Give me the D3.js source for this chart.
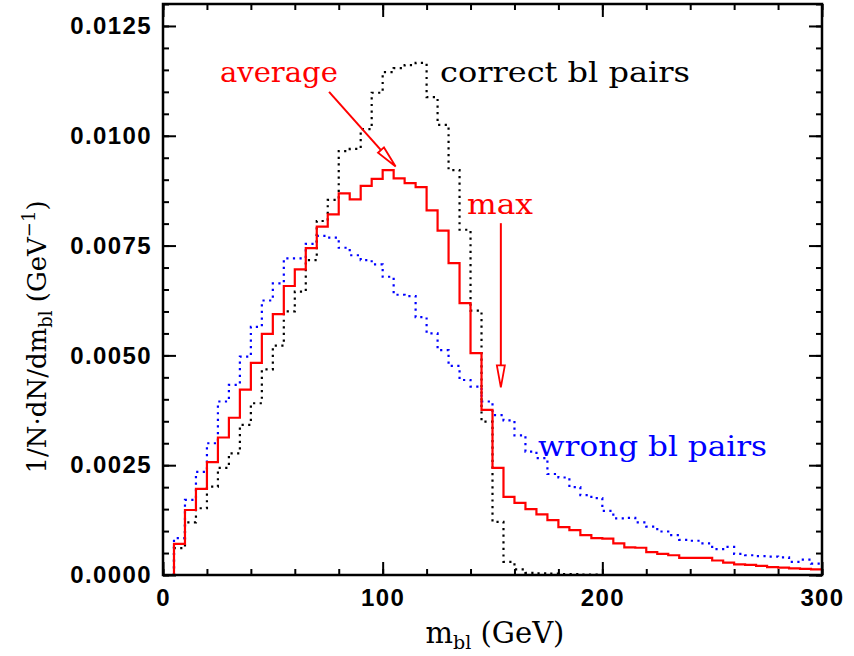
<!DOCTYPE html>
<html>
<head>
<meta charset="utf-8">
<script src="https://cdn.jsdelivr.net/npm/d3@7"></script>
<style>
  body { margin: 0; background: white; }
</style>
</head>
<body>
<div id="vis"></div>
<script>
// bin lower edges (GeV), 5 GeV wide bins starting at 5
const binEdges = d3.range(5, 300, 5);

const averageVals = [
    0.00071, 0.00148, 0.00196, 0.00257, 0.00313, 0.00358, 0.00422, 0.00483, 0.00549, 0.00594,
    0.00658, 0.00696, 0.00744, 0.00793, 0.00821, 0.00869, 0.00855, 0.00886, 0.00902, 0.00922,
    0.00903, 0.00892, 0.00883, 0.00830, 0.00784, 0.00710, 0.00619, 0.00505, 0.00376, 0.00244,
    0.00178, 0.00164, 0.00150, 0.00138, 0.00125, 0.00109, 0.00102, 0.00091, 0.00084, 0.00083,
    0.00072, 0.00063, 0.00062, 0.00052, 0.00048, 0.00045, 0.00039, 0.00039, 0.00039, 0.00033,
    0.00028, 0.00024, 0.00023, 0.00021, 0.00018, 0.00017, 0.00015, 0.00014, 0.00013
];

const correctVals = [
    0.00061, 0.00120, 0.00152, 0.00201, 0.00244, 0.00277, 0.00342, 0.00391, 0.00468, 0.00522,
    0.00600, 0.00645, 0.00717, 0.00806, 0.00854, 0.00965, 0.00970, 0.01015, 0.01098, 0.01145,
    0.01154, 0.01161, 0.01166, 0.01088, 0.01025, 0.00922, 0.00786, 0.00602, 0.00349, 0.00121,
    0.00030, 0.00013, 0.00005, 0.00004, 0.00003, 0.00002, 0.00002, 0.00001, 0.00001, 0,
    0, 0, 0, 0, 0, 0, 0, 0, 0, 0,
    0, 0, 0, 0, 0, 0, 0, 0, 0
];

const wrongVals = [
    0.00084, 0.00171, 0.00235, 0.00300, 0.00395, 0.00433, 0.00497, 0.00565, 0.00625, 0.00664,
    0.00721, 0.00721, 0.00754, 0.00772, 0.00768, 0.00745, 0.00728, 0.00717, 0.00707, 0.00679,
    0.00638, 0.00635, 0.00587, 0.00550, 0.00512, 0.00476, 0.00444, 0.00429, 0.00395, 0.00364,
    0.00352, 0.00318, 0.00281, 0.00266, 0.00230, 0.00222, 0.00200, 0.00182, 0.00175, 0.00146,
    0.00129, 0.00130, 0.00120, 0.00110, 0.00099, 0.00091, 0.00080, 0.00078, 0.00072, 0.00059,
    0.00064, 0.00048, 0.00045, 0.00043, 0.00042, 0.00040, 0.00030, 0.00035, 0.00026
];

const xTicks = [0, 100, 200, 300];
const yTicks = [0, 0.0025, 0.0050, 0.0075, 0.0100, 0.0125];

const width = 854;
const height = 656;
const margin = {top: 4, right: 32, bottom: 81, left: 163};

const svg = d3.select('#vis')
    .append('svg')
    .attr('width', width)
    .attr('height', height);

const x = d3.scaleLinear()
    .domain([0, 300])
    .range([margin.left, width - margin.right]);

const y = d3.scaleLinear()
    .domain([0, 0.013])
    .range([height - margin.bottom, margin.top]);

function histPoints(vals) {
    var pts = [[binEdges[0], 0]];
    for (var i = 0; i < vals.length; i++) {
        pts.push([binEdges[i], vals[i]]);
    }
    pts.push([300, vals[vals.length - 1]]);
    return pts;
}

const line = d3.line()
    .x(d => x(d[0]))
    .y(d => y(d[1]))
    .curve(d3.curveStepAfter);

svg.append('clipPath')
    .attr('id', 'clip')
    .append('rect')
    .attr('x', x(0))
    .attr('y', y(0.013))
    .attr('width', x(300) - x(0))
    .attr('height', y(0) - y(0.013));

const plot = svg.append('g').attr('clip-path', 'url(#clip)');

plot.append('path')
    .attr('d', line(histPoints(wrongVals)))
    .attr('fill', 'none')
    .attr('stroke', '#0000ff')
    .attr('stroke-width', 2.2)
    .attr('stroke-dasharray', '2.2,4.4');

plot.append('path')
    .attr('d', line(histPoints(correctVals)))
    .attr('fill', 'none')
    .attr('stroke', 'black')
    .attr('stroke-width', 2.2)
    .attr('stroke-dasharray', '2.2,4.4');

plot.append('path')
    .attr('d', line(histPoints(averageVals)))
    .attr('fill', 'none')
    .attr('stroke', '#ff0000')
    .attr('stroke-width', 2.2);

// axes: ticks pointing inward on all four sides
function styleAxis(g) {
    g.select('.domain').remove();
    g.selectAll('.tick line').attr('stroke', 'black').attr('stroke-width', 2);
    g.selectAll('.tick text')
        .attr('font-family', 'Liberation Sans, Arial, sans-serif')
        .attr('font-weight', 'bold')
        .attr('font-size', '24px')
        .attr('letter-spacing', '1.4px')
        .attr('fill', 'black');
}

const xMinor = d3.range(0, 301, 20);
const yMinor = d3.range(0, 0.01301, 0.0005);

svg.append('g')
    .attr('transform', `translate(0,${y(0)})`)
    .call(d3.axisBottom(x).tickValues(xMinor).tickSize(-6).tickFormat(''))
    .call(styleAxis);
svg.append('g')
    .attr('transform', `translate(0,${y(0)})`)
    .call(d3.axisBottom(x).tickValues(xTicks).tickSize(-13).tickPadding(14).tickFormat(d3.format('d')))
    .call(styleAxis);
svg.append('g')
    .attr('transform', `translate(0,${y(0.013)})`)
    .call(d3.axisTop(x).tickValues(xMinor).tickSize(-6).tickFormat(''))
    .call(styleAxis);
svg.append('g')
    .attr('transform', `translate(0,${y(0.013)})`)
    .call(d3.axisTop(x).tickValues(xTicks).tickSize(-13).tickFormat(''))
    .call(styleAxis);

svg.append('g')
    .attr('transform', `translate(${x(0)},0)`)
    .call(d3.axisLeft(y).tickValues(yMinor).tickSize(-6).tickFormat(''))
    .call(styleAxis);
svg.append('g')
    .attr('transform', `translate(${x(0)},0)`)
    .call(d3.axisLeft(y).tickValues(yTicks).tickSize(-13).tickPadding(11).tickFormat(d3.format('.4f')))
    .call(styleAxis);
svg.append('g')
    .attr('transform', `translate(${x(300)},0)`)
    .call(d3.axisRight(y).tickValues(yMinor).tickSize(-6).tickFormat(''))
    .call(styleAxis);
svg.append('g')
    .attr('transform', `translate(${x(300)},0)`)
    .call(d3.axisRight(y).tickValues(yTicks).tickSize(-13).tickFormat(''))
    .call(styleAxis);

svg.append('rect')
    .attr('x', x(0))
    .attr('y', y(0.013))
    .attr('width', x(300) - x(0))
    .attr('height', y(0) - y(0.013))
    .attr('fill', 'none')
    .attr('stroke', 'black')
    .attr('stroke-width', 2.5);

// axis titles
const serif = 'DejaVu Serif, serif';

const xTitle = svg.append('text')
    .attr('x', 495)
    .attr('y', 643)
    .attr('text-anchor', 'middle')
    .attr('font-family', serif)
    .attr('font-size', '29px')
    .attr('fill', 'black');
xTitle.append('tspan').text('m');
xTitle.append('tspan').attr('dy', 6).attr('font-size', '19px').text('bl');
xTitle.append('tspan').attr('dy', -6).text(' (GeV)');

const yTitle = svg.append('text')
    .attr('transform', 'translate(46,337) rotate(-90)')
    .attr('text-anchor', 'middle')
    .attr('font-family', serif)
    .attr('font-size', '26px')
    .attr('fill', 'black');
yTitle.append('tspan').text('1/N·dN/dm');
yTitle.append('tspan').attr('dy', 6).attr('font-size', '18px').text('bl');
yTitle.append('tspan').attr('dy', -6).text(' (GeV');
yTitle.append('tspan').attr('dy', -11).attr('font-size', '18px').text('−1');
yTitle.append('tspan').attr('dy', 11).text(')');

// annotations (positions in data units)
const labels = [
    {text: 'average', gev: 25.9, val: 0.01122, color: '#ff0000', len: 118},
    {text: 'correct bl pairs', gev: 126.1, val: 0.01122, color: 'black', len: 250},
    {text: 'max', gev: 138.4, val: 0.00822, color: '#ff0000', len: 66},
    {text: 'wrong bl pairs', gev: 170.7, val: 0.00271, color: '#0000ff', len: 229}
];

for (var i = 0; i < labels.length; i++) {
    svg.append('text')
        .attr('x', x(labels[i].gev))
        .attr('y', y(labels[i].val))
        .attr('font-family', serif)
        .attr('font-size', '28px')
        .attr('fill', labels[i].color)
        .attr('textLength', labels[i].len)
        .attr('lengthAdjust', 'spacingAndGlyphs')
        .text(labels[i].text);
}

const arrows = [
    {from: [75.6, 0.01100], to: [105.9, 0.00930]},
    {from: [153.8, 0.00801], to: [153.8, 0.00427]}
];

for (var i = 0; i < arrows.length; i++) {
    const x1 = x(arrows[i].from[0]), y1 = y(arrows[i].from[1]);
    const x2 = x(arrows[i].to[0]), y2 = y(arrows[i].to[1]);
    const ang = Math.atan2(y2 - y1, x2 - x1);
    const hl = 22, hw = 4;
    const bx = x2 - hl * Math.cos(ang), by = y2 - hl * Math.sin(ang);
    const px = -Math.sin(ang) * hw, py = Math.cos(ang) * hw;

    svg.append('line')
        .attr('x1', x1)
        .attr('y1', y1)
        .attr('x2', bx)
        .attr('y2', by)
        .attr('stroke', '#ff0000')
        .attr('stroke-width', 2);

    svg.append('path')
        .attr('d', `M${x2},${y2}L${bx + px},${by + py}L${bx - px},${by - py}Z`)
        .attr('fill', 'white')
        .attr('stroke', '#ff0000')
        .attr('stroke-width', 1.8);
}
</script>
</body>
</html>
